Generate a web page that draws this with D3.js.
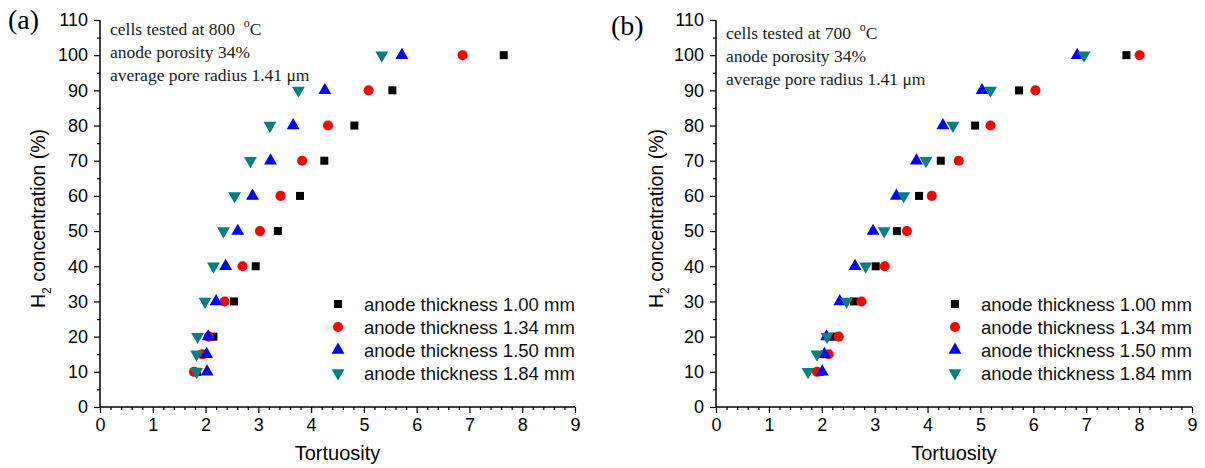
<!DOCTYPE html>
<html>
<head>
<meta charset="utf-8">
<script src="https://cdn.jsdelivr.net/npm/d3@7"></script>
<style>
  html, body { margin: 0; padding: 0; background: #fff; }
  svg { display: block; }
</style>
</head>
<body>
<svg id="chart" width="1205" height="468"></svg>
<script>
// H2 concentration levels (%) shared by every series
const h2Levels = [10, 15, 20, 30, 40, 50, 60, 70, 80, 90, 100];

// Tortuosity, cells tested at 800 °C
const tort800_100 = [1.84, 1.95, 2.15, 2.54, 2.95, 3.37, 3.79, 4.25, 4.82, 5.54, 7.65];
const tort800_134 = [1.78, 1.94, 2.06, 2.36, 2.70, 3.03, 3.42, 3.83, 4.32, 5.09, 6.87];
const tort800_150 = [2.03, 2.02, 2.05, 2.20, 2.38, 2.61, 2.89, 3.23, 3.66, 4.26, 5.72];
const tort800_184 = [1.83, 1.83, 1.85, 1.99, 2.15, 2.34, 2.55, 2.85, 3.22, 3.76, 5.34];

// Tortuosity, cells tested at 700 °C
const tort700_100 = [1.96, 2.07, 2.22, 2.61, 3.02, 3.42, 3.84, 4.25, 4.90, 5.73, 7.76];
const tort700_134 = [1.91, 2.13, 2.32, 2.75, 3.19, 3.61, 4.08, 4.59, 5.19, 6.04, 8.01];
const tort700_150 = [2.01, 2.05, 2.09, 2.34, 2.63, 2.97, 3.41, 3.79, 4.29, 5.03, 6.83];
const tort700_184 = [1.74, 1.91, 2.10, 2.47, 2.83, 3.18, 3.55, 3.97, 4.48, 5.19, 6.96];

const seriesNames = ["anode thickness 1.00 mm", "anode thickness 1.34 mm",
                     "anode thickness 1.50 mm", "anode thickness 1.84 mm"];
const seriesColors = ["#000000", "#ff0000", "#0000ff", "#008080"];
const seriesSymbols = [d3.symbolSquare, d3.symbolCircle, d3.symbolTriangle, d3.symbolTriangle];

const xTicks = [0, 1, 2, 3, 4, 5, 6, 7, 8, 9];
const yTicks = [0, 10, 20, 30, 40, 50, 60, 70, 80, 90, 100, 110];

const panels = [
  { tag: "(a)", temp: "800", series: [tort800_100, tort800_134, tort800_150, tort800_184],
    left: 100, right: 575, top: 20, bottom: 407,
    tagX: 8, tagY: 29, noteX: 110, noteY: 35, legendX: 338, ylabX: 45 },
  { tag: "(b)", temp: "700", series: [tort700_100, tort700_134, tort700_150, tort700_184],
    left: 716, right: 1192, top: 20, bottom: 407,
    tagX: 611, tagY: 35, noteX: 726, noteY: 39, legendX: 955, ylabX: 663 }
];

const svg = d3.select("#chart");
const sansFont = "Arial, 'Liberation Sans', sans-serif";
const serifFont = "'Times New Roman', 'Liberation Serif', serif";

// marker shape for a series index (the last one is an inverted triangle)
function markerPath(i) {
  const sizes = [64, 80, 72, 72];
  return d3.symbol().type(seriesSymbols[i]).size(sizes[i])();
}
function markerTransform(i, x, y) {
  return i === 3 ? `translate(${x},${y}) rotate(180)` : `translate(${x},${y})`;
}

panels.forEach(p => {
  const g = svg.append("g");
  const x = d3.scaleLinear().domain([0, 9]).range([p.left, p.right]);
  const y = d3.scaleLinear().domain([0, 110]).range([p.bottom, p.top]);

  // minor ticks
  const xMinor = d3.range(0, 9.0001, 0.2).filter(v => Math.abs(v - Math.round(v)) > 1e-6);
  const yMinor = d3.range(5, 110, 10);

  const xAxis = g.append("g").attr("transform", `translate(0,${p.bottom})`)
    .call(d3.axisBottom(x).tickValues(xTicks).tickFormat(d3.format("d")).tickSize(6).tickPadding(5));
  g.append("g").attr("transform", `translate(0,${p.bottom})`)
    .call(d3.axisBottom(x).tickValues(xMinor).tickFormat("").tickSize(3))
    .call(s => s.select(".domain").remove());

  const yAxis = g.append("g").attr("transform", `translate(${p.left},0)`)
    .call(d3.axisLeft(y).tickValues(yTicks).tickFormat(d3.format("d")).tickSize(6).tickPadding(6));
  g.append("g").attr("transform", `translate(${p.left},0)`)
    .call(d3.axisLeft(y).tickValues(yMinor).tickFormat("").tickSize(3))
    .call(s => s.select(".domain").remove());

  g.selectAll(".domain").attr("stroke", "#000").attr("stroke-width", 1.5);
  g.selectAll(".tick line").attr("stroke", "#000").attr("stroke-width", 1.2);
  g.selectAll(".tick text").attr("font-family", sansFont).attr("font-size", 18).attr("fill", "#000");
  xAxis.selectAll(".domain").attr("d", `M${p.left},0H${p.right}`);
  yAxis.selectAll(".domain").attr("d", `M0,${p.bottom}V${p.top}`);

  // axis titles
  g.append("text")
    .attr("x", (p.left + p.right) / 2).attr("y", 460)
    .attr("text-anchor", "middle").attr("font-family", sansFont).attr("font-size", 20)
    .text("Tortuosity");

  const ylab = g.append("text")
    .attr("transform", `translate(${p.ylabX},${(p.top + p.bottom) / 2 + 5}) rotate(-90)`)
    .attr("text-anchor", "middle").attr("font-family", sansFont).attr("font-size", 19.5);
  ylab.append("tspan").text("H");
  ylab.append("tspan").attr("font-size", 12).attr("dy", 6).text("2");
  ylab.append("tspan").attr("dy", -6).text(" concentration (%)");

  // panel tag
  g.append("text").attr("x", p.tagX).attr("y", p.tagY)
    .attr("font-family", serifFont).attr("font-size", 28).text(p.tag);

  // experimental conditions note
  const note = g.append("g").attr("font-family", serifFont).attr("font-size", 17.5).attr("fill", "#222");
  const t1 = note.append("text").attr("x", p.noteX).attr("y", p.noteY);
  t1.append("tspan").text(`cells tested at ${p.temp}\u00a0\u00a0`);
  t1.append("tspan").attr("font-size", 12).attr("dy", -8).text("o");
  t1.append("tspan").attr("dy", 8).text("C");
  note.append("text").attr("x", p.noteX).attr("y", p.noteY + 23).text("anode porosity 34%");
  note.append("text").attr("x", p.noteX).attr("y", p.noteY + 46).text("average pore radius 1.41 \u03bcm");

  // data markers
  p.series.forEach((vals, i) => {
    g.append("g").selectAll("path")
      .data(vals.map((v, k) => ({ t: v, h: h2Levels[k] })))
      .join("path")
      .attr("d", markerPath(i))
      .attr("transform", d => markerTransform(i, x(d.t), y(d.h)))
      .attr("fill", seriesColors[i]);
  });

  // legend
  const lg = g.append("g");
  seriesNames.forEach((name, i) => {
    const ly = 304 + i * 23;
    lg.append("path").attr("d", markerPath(i))
      .attr("transform", markerTransform(i, p.legendX, ly))
      .attr("fill", seriesColors[i]);
    lg.append("text").attr("x", p.legendX + 26).attr("y", ly + 7)
      .attr("font-family", sansFont).attr("font-size", 18.5).attr("fill", "#111")
      .text(name);
  });
});
</script>
</body>
</html>
